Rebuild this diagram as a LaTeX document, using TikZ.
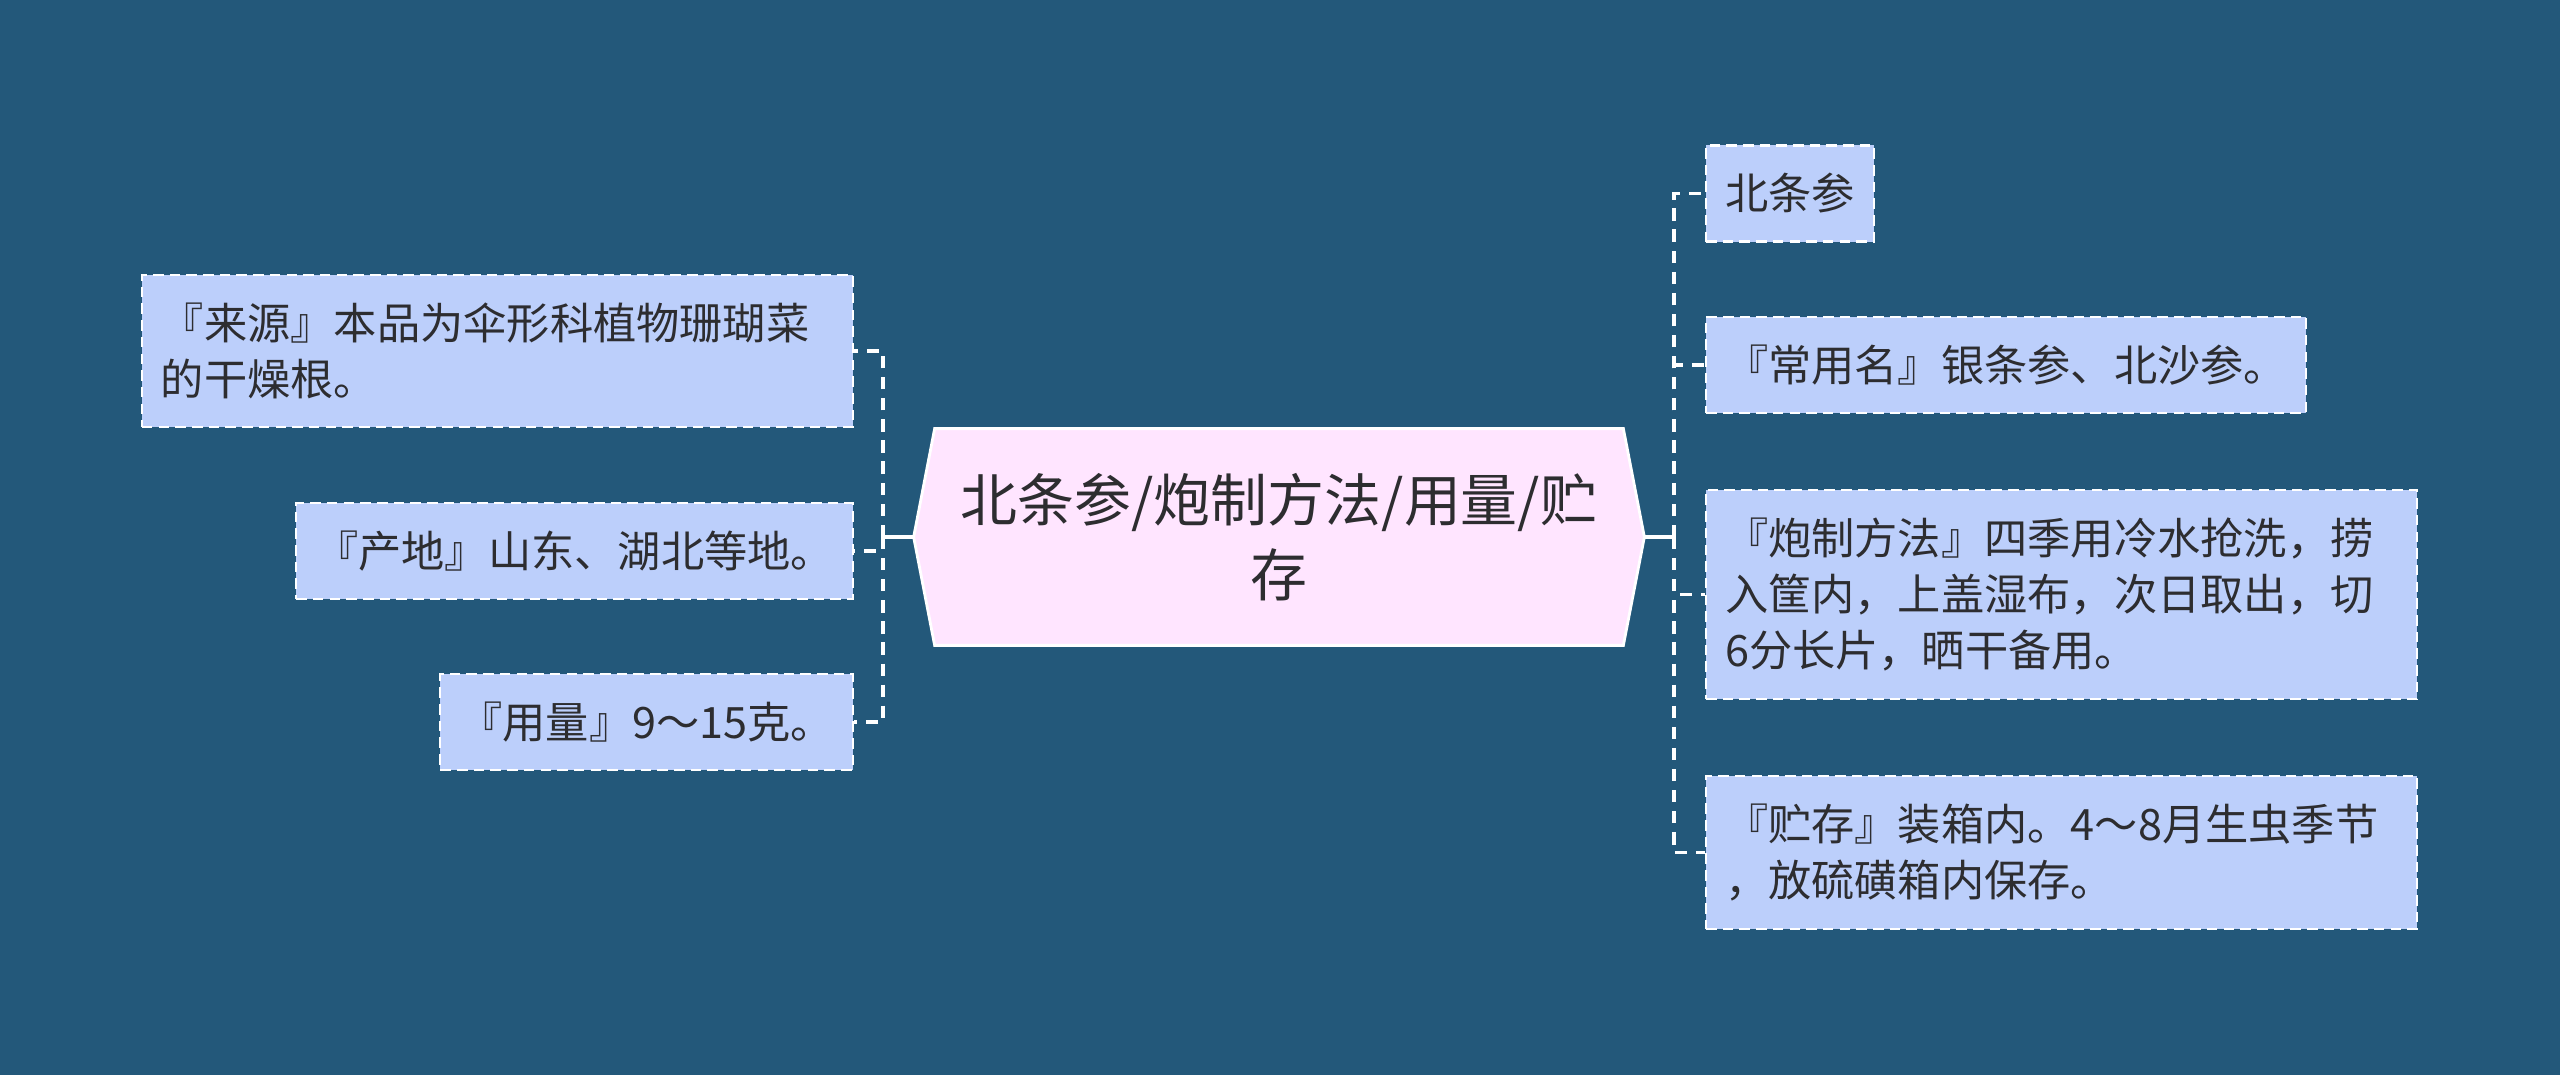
\documentclass[tikz,border=0pt]{standalone}
\usepackage{fontspec}
\newfontfamily\cjk{Noto Sans CJK SC}
\definecolor{Canvas}{RGB}{35,88,122}
\definecolor{LeafBlue}{RGB}{188,207,251}
\definecolor{RootPink}{RGB}{255,229,255}
\definecolor{InkGray}{RGB}{45,45,48}
\usetikzlibrary{calc,backgrounds}

\begin{document}
\begin{tikzpicture}[
  leaf/.style={draw=white,fill=LeafBlue,line width=1.2pt,dash pattern=on 6pt off 3.5pt,text=InkGray,font=\cjk\fontsize{24.6pt}{31.9pt}\selectfont,align=left,inner xsep=0.38cm,inner ysep=0.56cm},
  wide/.style={text width=13.46cm},
  root/.style={text=InkGray,font=\cjk\fontsize{32.4pt}{42.7pt}\selectfont,align=center,minimum width=14.6cm,minimum height=4.32cm,inner sep=0pt},
  rootshape/.style={draw=white,fill=RootPink,line width=1.6pt},
  link/.style={draw=white,line width=2.2pt,dash pattern=on 7pt off 5pt},
  stub/.style={draw=white,line width=2.2pt}
]
  \useasboundingbox (0,0) rectangle (51.2,-21.5);

  % centre
  \node[root] (root) at (25.58,-10.74) {北条参/炮制方法/用量/贮\\存};

  % left side
  \node[leaf,wide,anchor=east] (b1) at (17.08,-7.02) {『来源』本品为伞形科植物珊瑚菜\\的干燥根。};
  \node[leaf,anchor=east] (b2) at (17.08,-11.02) {『产地』山东、湖北等地。};
  \node[leaf,anchor=east] (b3) at (17.08,-14.44) {『用量』9～15克。};

  % right side
  \node[leaf,anchor=west] (r1) at (34.1,-3.87) {北条参};
  \node[leaf,anchor=west] (r2) at (34.1,-7.30) {『常用名』银条参、北沙参。};
  \node[leaf,wide,anchor=west] (r3) at (34.1,-11.89) {『炮制方法』四季用冷水抢洗，捞\\入筐内，上盖湿布，次日取出，切\\6分长片，晒干备用。};
  \node[leaf,wide,anchor=west] (r4) at (34.1,-17.05) {『贮存』装箱内。4～8月生虫季节\\，放硫磺箱内保存。};

  \coordinate (lspine) at (17.66,-10.74);
  \coordinate (rspine) at (33.48,-10.74);

  \begin{scope}[on background layer]
    \fill[Canvas] (0,0) rectangle (51.2,-21.5);
    \draw[rootshape] (root.west) -- ($(root.north west)+(0.42,0)$) -- ($(root.north east)+(-0.42,0)$)
      -- (root.east) -- ($(root.south east)+(-0.42,0)$) -- ($(root.south west)+(0.42,0)$) -- cycle;
  \end{scope}

  \draw[stub] (root.west) -- (lspine);
  \draw[stub] (root.east) -- (rspine);
  \foreach \b in {b1,b2,b3}
    \draw[link] (lspine) |- (\b.east);
  \foreach \b in {r1,r2,r3,r4}
    \draw[link] (rspine) |- (\b.west);
\end{tikzpicture}
\end{document}
